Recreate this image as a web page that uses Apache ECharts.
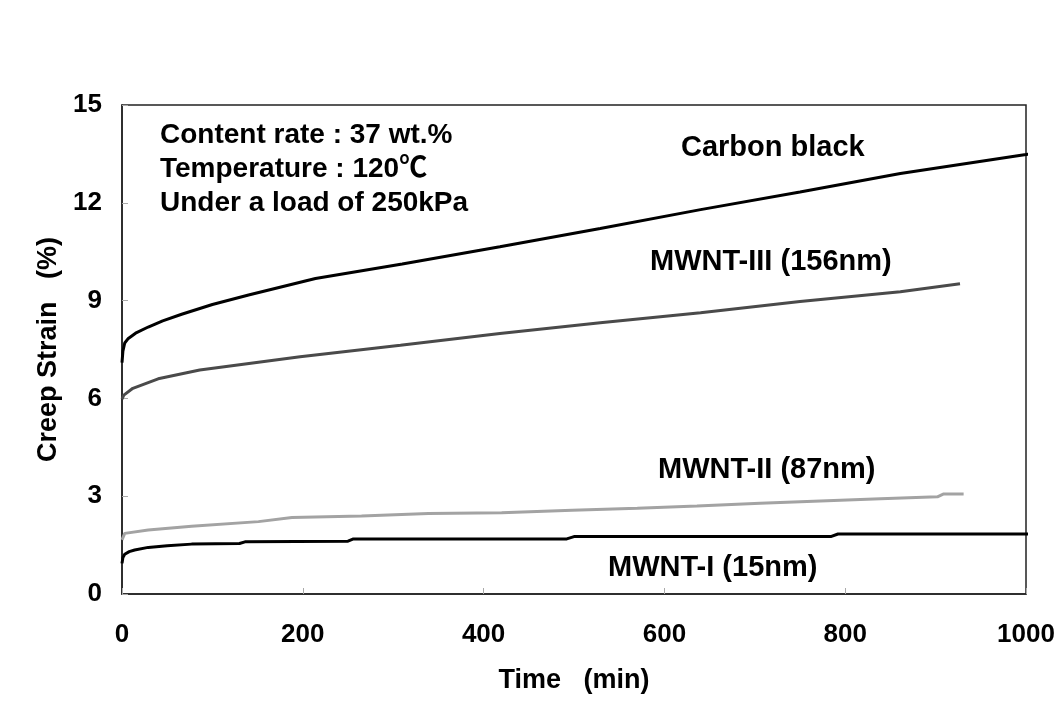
<!DOCTYPE html>
<html>
<head>
<meta charset="utf-8">
<title>Creep Strain vs Time</title>
<script src="https://cdn.jsdelivr.net/npm/echarts@6/dist/echarts.min.js"></script>
<style>
  html, body { margin: 0; padding: 0; background: #fff; }
  #chart { width: 1058px; height: 713px; }
</style>
</head>
<body>
<div id="chart"></div>
<script>
// Creep strain (%) measured over time (min) for each filler type
const xTicks = [0, 200, 400, 600, 800, 1000];
const yTicks = [0, 3, 6, 9, 12, 15];

const carbonBlackTime = [0, 1, 3, 7, 15, 29, 45, 66, 100, 140, 214, 310, 418, 529, 640, 750, 861, 1000, 1008];
const carbonBlackStrain = [7.10, 7.45, 7.70, 7.84, 8.00, 8.19, 8.38, 8.58, 8.88, 9.17, 9.68, 10.12, 10.65, 11.21, 11.79, 12.33, 12.90, 13.48, 13.52];

const mwnt3Time = [0, 2, 12, 40, 86, 197, 308, 418, 529, 640, 750, 861, 927];
const mwnt3Strain = [5.98, 6.10, 6.31, 6.60, 6.87, 7.28, 7.63, 7.99, 8.32, 8.63, 8.97, 9.27, 9.52];

const mwnt2Time = [0, 3, 29, 77, 151, 188, 265, 339, 420, 498, 570, 636, 706, 780, 839, 902, 909, 931];
const mwnt2Strain = [1.66, 1.86, 1.96, 2.08, 2.22, 2.35, 2.39, 2.47, 2.49, 2.57, 2.63, 2.70, 2.78, 2.86, 2.92, 2.98, 3.07, 3.07];

const mwnt1Time = [0, 1, 3, 8, 14, 29, 50, 77, 130, 136, 250, 256, 492, 500, 784, 792, 1008];
const mwnt1Strain = [0.94, 1.12, 1.22, 1.30, 1.35, 1.43, 1.48, 1.53, 1.55, 1.60, 1.62, 1.69, 1.69, 1.76, 1.76, 1.84, 1.84];

const infoLines = ['Content rate : 37 wt.%', 'Temperature : 120\u2103', 'Under a load of 250kPa'];
const seriesNames = ['Carbon black', 'MWNT-III (156nm)', 'MWNT-II (87nm)', 'MWNT-I (15nm)'];

const pairs = (xs, ys) => xs.map((x, i) => [x, ys[i]]);

const FONT = '"Liberation Sans", Arial, "Noto Sans CJK JP", sans-serif';

const chart = echarts.init(document.getElementById('chart'), null, { renderer: 'canvas' });

function lineSeries(name, data, color) {
  return {
    name: name,
    type: 'line',
    data: data,
    showSymbol: false,
    clip: false,
    smooth: false,
    lineStyle: { color: color, width: 3 },
    itemStyle: { color: color },
    animation: false,
    z: 3
  };
}

function textEl(text, x, y, size) {
  return {
    type: 'text',
    x: x,
    y: y,
    z: 10,
    style: {
      text: text,
      fill: '#000',
      font: 'bold ' + size + 'px ' + FONT,
      verticalAlign: 'middle',
      align: 'left'
    }
  };
}

chart.setOption({
  backgroundColor: '#ffffff',
  animation: false,
  grid: {
    left: 122, right: 32, top: 105, bottom: 119,
    show: true,
    borderColor: '#222',
    borderWidth: 1.5,
    backgroundColor: 'transparent'
  },
  xAxis: {
    type: 'value',
    min: xTicks[0],
    max: xTicks[xTicks.length - 1],
    interval: 200,
    name: 'Time   (min)',
    nameLocation: 'middle',
    nameGap: 73,
    nameTextStyle: { fontFamily: FONT, fontWeight: 'bold', fontSize: 27, color: '#000' },
    axisLine: { show: true, lineStyle: { color: '#222', width: 1.5 } },
    axisTick: { show: true, inside: true, length: 6, lineStyle: { color: '#aaa', width: 1 } },
    axisLabel: { margin: 28, fontFamily: FONT, fontWeight: 'bold', fontSize: 26, color: '#000',
                 formatter: v => String(v) },
    splitLine: { show: false }
  },
  yAxis: {
    type: 'value',
    min: yTicks[0],
    max: yTicks[yTicks.length - 1],
    interval: 3,
    name: 'Creep Strain   (%)',
    nameLocation: 'middle',
    nameRotate: 90,
    nameGap: 59,
    nameTextStyle: { fontFamily: FONT, fontWeight: 'bold', fontSize: 27, color: '#000' },
    axisLine: { show: true, lineStyle: { color: '#222', width: 1.5 } },
    axisTick: { show: true, inside: true, length: 6, lineStyle: { color: '#aaa', width: 1 } },
    axisLabel: { margin: 20, fontFamily: FONT, fontWeight: 'bold', fontSize: 26, color: '#000',
                 formatter: v => String(v) },
    splitLine: { show: false }
  },
  series: [
    lineSeries(seriesNames[0], pairs(carbonBlackTime, carbonBlackStrain), '#000000'),
    lineSeries(seriesNames[1], pairs(mwnt3Time, mwnt3Strain), '#4a4a4a'),
    lineSeries(seriesNames[2], pairs(mwnt2Time, mwnt2Strain), '#a3a3a3'),
    lineSeries(seriesNames[3], pairs(mwnt1Time, mwnt1Strain), '#000000')
  ],
  graphic: [
    textEl(infoLines[0], 160, 135, 28),
    textEl(infoLines[1], 160, 169, 28),
    textEl(infoLines[2], 160, 203, 28),
    textEl(seriesNames[0], 681, 148, 29),
    textEl(seriesNames[1], 650, 262, 29),
    textEl(seriesNames[2], 658, 470, 29),
    textEl(seriesNames[3], 608, 568, 29)
  ]
});
</script>
</body>
</html>
